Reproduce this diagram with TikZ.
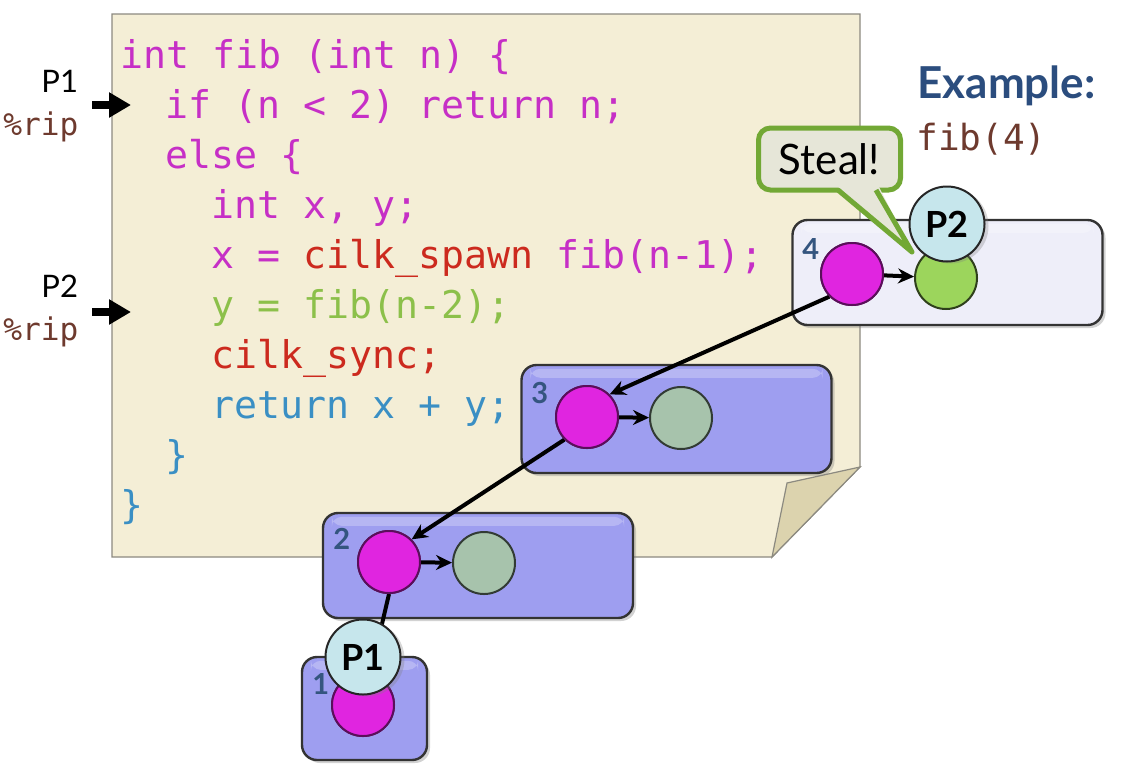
\documentclass[tikz,border=0pt]{standalone}
\usepackage{fontspec}
\setmainfont{Lato}
\newfontfamily\codefont{DejaVu Sans Mono}
\usetikzlibrary{arrows.meta,shadows}
\definecolor{pagebg}{HTML}{F4EED6}
\definecolor{pageedge}{HTML}{8C8A80}
\definecolor{flapc}{HTML}{DCD3AE}
\definecolor{cmag}{HTML}{C62FC6}
\definecolor{cred}{HTML}{CC2A1E}
\definecolor{cgreen}{HTML}{8CC04A}
\definecolor{cblue}{HTML}{3A8FC4}
\definecolor{cbrown}{HTML}{6E3A2E}
\definecolor{exblue}{HTML}{2B4D7E}
\definecolor{boxfill}{HTML}{9E9EF0}
\definecolor{boxlight}{HTML}{EEEEF9}
\definecolor{numblue}{HTML}{34557F}
\definecolor{nodemag}{HTML}{E025E0}
\definecolor{nodegreen}{HTML}{9CD55C}
\definecolor{nodegrey}{HTML}{A7C3AC}
\definecolor{pcirc}{HTML}{C6E6EC}
\definecolor{stealgreen}{HTML}{72A835}
\definecolor{stealfill}{HTML}{E6E6D8}
\begin{document}
\begin{tikzpicture}[x=0.5pt,y=-0.5pt,
  code/.style={anchor=base west,inner sep=0pt,font=\codefont\fontsize{19.1pt}{25pt}\selectfont},
  sidelabel/.style={anchor=base west,inner sep=0pt,font=\fontsize{15.5pt}{18pt}\selectfont},
  riplabel/.style={anchor=base west,inner sep=0pt,text=cbrown,font=\codefont\fontsize{15.6pt}{18pt}\selectfont},
  ptr/.style={line width=4pt,-{Triangle[length=11pt,width=12pt]}},
  frame/.style={rounded corners=7.5pt,draw=black!80,line width=1.2pt,minimum width=155pt,minimum height=52.5pt,inner sep=0pt,
     drop shadow={shadow xshift=1.5pt,shadow yshift=-1.5pt,opacity=0.35}},
  gloss/.style={white,opacity=0.25,rounded corners=5pt},
  num/.style={anchor=base west,inner sep=0pt,text=numblue,font=\bfseries\fontsize{14.5pt}{16pt}\selectfont},
  strand/.style={circle,minimum size=31pt,inner sep=0pt,line width=1pt},
  magc/.style={strand,fill=nodemag,draw=nodemag!40!black},
  greyc/.style={strand,fill=nodegrey,draw=nodegrey!30!black},
  greenc/.style={strand,fill=nodegreen,draw=nodegreen!30!black},
  proc/.style={circle,minimum size=37.5pt,inner sep=0pt,fill=pcirc,draw=black!85,line width=1pt,
     font=\bfseries\fontsize{18pt}{20pt}\selectfont,
     drop shadow={shadow xshift=2pt,shadow yshift=-1pt,opacity=0.3}},
  edge/.style={line width=2pt,-{Stealth[length=8pt,width=7.5pt]}},
  plainedge/.style={line width=2pt}
]
\useasboundingbox (0,0) rectangle (1138,772);
\fill[white] (0,0) rectangle (1138,772);

% page
\filldraw[fill=pagebg,draw=pageedge,line width=0.6pt] (112,14) -- (860,14) -- (860,467) -- (772,557) -- (112,557) -- cycle;
\filldraw[fill=flapc,draw=pageedge,line width=0.6pt] (860,467) -- (787,483) -- (772,557) -- cycle;

% code
\node[code,text=cmag] (l1) at (120,68) {int fib (int n) \{};
\node[code,text=cmag] (l2) at (165.5,118) {if (n < 2) return n;};
\node[code,text=cmag] (l3) at (165.5,168) {else \{};
\node[code,text=cmag] (l4) at (211,218) {int x, y;};
\node[code,text=cmag] (l5) at (211,268) {x = \textcolor{cred}{cilk\_spawn} fib(n-1);};
\node[code,text=cgreen] (l6) at (211,318) {y = fib(n-2);};
\node[code,text=cred] (l7) at (211,368) {cilk\_sync;};
\node[code,text=cblue] (l8) at (211,418) {return x + y;};
\node[code,text=cblue] (l9) at (165.5,468) {\}};
\node[code,text=cblue] (l10) at (120,518) {\}};

% side labels
\node[sidelabel] (p1lab) at (41,92) {P1};
\node[riplabel] (rip1) at (3,135) {\%rip};
\coordinate (a1s) at (92,105);
\coordinate (a1e) at (131,105);
\draw[ptr] (a1s) -- (a1e);
\node[sidelabel] (p2lab) at (41,297) {P2};
\node[riplabel] (rip2) at (3,340) {\%rip};
\coordinate (a2s) at (92,312);
\coordinate (a2e) at (131,312);
\draw[ptr] (a2s) -- (a2e);

% example
\node[anchor=base west,inner sep=0pt,text=exblue,font=\bfseries\fontsize{22pt}{25pt}\selectfont] (ex) at (917,98) {Example:};
\node[anchor=base west,inner sep=0pt,text=cbrown,font=\codefont\fontsize{18pt}{22pt}\selectfont] (fib4) at (916,150) {fib(4)};

% frames
\node[frame,fill=boxlight] (b4) at (947.5,272.5) {};
\node[frame,fill=boxfill,minimum height=54pt] (b3) at (676.5,419) {};
\node[frame,fill=boxfill] (b2) at (478,565.5) {};
\node[frame,fill=boxfill,minimum width=62.5pt,minimum height=51.5pt] (b1) at (364.5,708.5) {};
\fill[gloss] ([xshift=5pt,yshift=-2.5pt]b4.north west) rectangle ([xshift=-5pt,yshift=-7pt]b4.north east);
\fill[gloss] ([xshift=5pt,yshift=-2.5pt]b3.north west) rectangle ([xshift=-5pt,yshift=-7pt]b3.north east);
\fill[gloss] ([xshift=5pt,yshift=-2.5pt]b2.north west) rectangle ([xshift=-5pt,yshift=-7pt]b2.north east);
\fill[gloss] ([xshift=5pt,yshift=-2.5pt]b1.north west) rectangle ([xshift=-5pt,yshift=-7pt]b1.north east);
\node[num] (n4) at (802,259) {4};
\node[num] (n3) at (531,403) {3};
\node[num] (n2) at (333,549) {2};
\node[num] (n1) at (312,694) {1};

% strands
\node[magc] (m4) at (852,274) {};
\node[greenc] (g4) at (946,278) {};
\node[magc] (m3) at (587,417) {};
\node[greyc] (s3) at (681,418) {};
\node[magc] (m2) at (389,562) {};
\node[greyc] (s2) at (484,563) {};
\node[magc] (m1) at (363,705) {};

% edges
\draw[edge] (m4.south west) -- (m3.north east);
\draw[edge] (m3.south west) -- (m2.north east);
\draw[plainedge] (m2.south) -- (m1);
\draw[edge] (m4) -- (g4);
\draw[edge] (m3) -- (s3);
\draw[edge] (m2) -- (s2);
% redraw strand circles over line starts
\node[magc] at (m4) {};
\node[magc] at (m3) {};
\node[magc] at (m2) {};
\node[magc] at (m1) {};

% steal bubble
\node[rounded corners=6pt,fill=stealfill,draw=stealgreen,line width=2.5pt,minimum width=71pt,minimum height=31pt,
  font=\fontsize{21pt}{24pt}\selectfont] (steal) at (829.5,159) {Steal!};
\coordinate (tl) at (838,190);
\coordinate (tr) at (876,190);
\coordinate (tip) at (912,252);
\fill[stealfill] (836,185) -- (878,185) -- (tip) -- cycle;
\draw[stealgreen,line width=2.5pt,line join=round] (tl) -- (tip) -- (tr);

% processors
\node[proc] (p2) at (947,224) {P2};
\node[proc] (p1) at (363,657) {P1};
\end{tikzpicture}
\end{document}
